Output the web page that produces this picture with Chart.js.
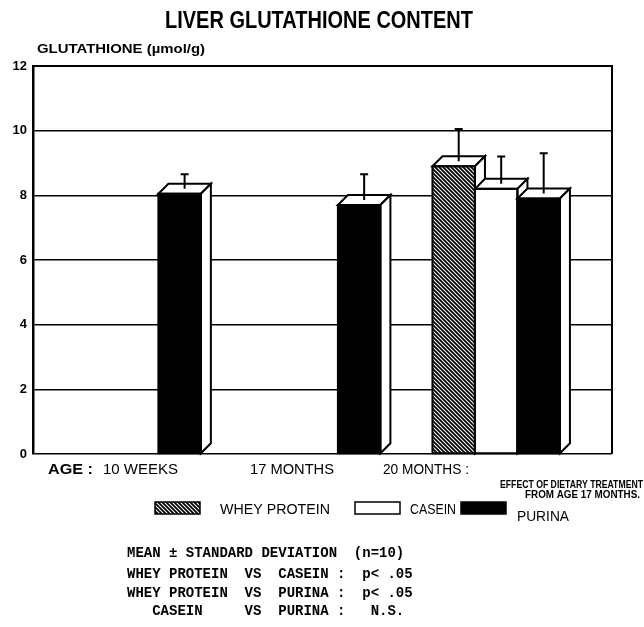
<!DOCTYPE html>
<html>
<head>
<meta charset="utf-8">
<script src="https://cdn.jsdelivr.net/npm/chart.js@4.4.0/dist/chart.umd.min.js"></script>
<style>
  html, body { margin: 0; padding: 0; background: #fff; }
  canvas { display: block; }
</style>
</head>
<body>
<canvas id="chart" width="644" height="627"></canvas>
<script>
// Data
const ages = ['10 WEEKS', '17 MONTHS', '20 MONTHS :'];
const diets = ['WHEY PROTEIN', 'CASEIN', 'PURINA'];
const wheyMean = [null, null, 8.9];
const wheySd = [null, null, 1.15];
const caseinMean = [null, null, 8.2];
const caseinSd = [null, null, 1.0];
const purinaMean = [8.05, 7.7, 7.9];
const purinaSd = [0.6, 0.95, 1.4];
const yTicks = [0, 2, 4, 6, 8, 10, 12];
const notes = [
  'MEAN \u00b1 STANDARD DEVIATION  (n=10)',
  'WHEY PROTEIN  VS  CASEIN :  p< .05',
  'WHEY PROTEIN  VS  PURINA :  p< .05',
  '   CASEIN     VS  PURINA :   N.S.'
];

const canvas = document.getElementById('chart');
const depth = 10;

// diagonal hatch for whey protein
function makeHatch() {
  const s = 4;
  const c = document.createElement('canvas');
  c.width = s; c.height = s;
  const g = c.getContext('2d');
  g.fillStyle = '#fff';
  g.fillRect(0, 0, s, s);
  g.strokeStyle = '#000';
  g.lineWidth = 1.8;
  g.beginPath();
  g.moveTo(0, 0); g.lineTo(s, s);
  g.moveTo(-1, s - 1); g.lineTo(1, s + 1);
  g.moveTo(s - 1, -1); g.lineTo(s + 1, 1);
  g.stroke();
  return canvas.getContext('2d').createPattern(c, 'repeat');
}
const hatch = makeHatch();

const toPoints = arr => arr.map((v, i) => ({ x: i, y: v }));

// text squeezed to a given width (scanned lettering is condensed)
function fitText(ctx, text, x, y, w) {
  const m = ctx.measureText(text).width;
  ctx.save();
  ctx.translate(x, y);
  ctx.scale(w / m, 1);
  ctx.fillText(text, 0, 0);
  ctx.restore();
}

// 3D faces + error bars
const bar3d = {
  id: 'bar3d',
  afterDatasetsDraw(chart) {
    const ctx = chart.ctx;
    const yScale = chart.scales.y;
    ctx.save();
    ctx.strokeStyle = '#000';
    ctx.lineWidth = 2;
    chart.data.datasets.forEach((ds, di) => {
      chart.getDatasetMeta(di).data.forEach((bar, i) => {
        if (ds.data[i].y == null) return;
        const p = bar.getProps(['x', 'y', 'base', 'width']);
        const l = p.x - p.width / 2, r = p.x + p.width / 2;
        bar.draw(ctx);
        ctx.fillStyle = '#fff';
        ctx.beginPath();
        ctx.moveTo(l, p.y); ctx.lineTo(l + depth, p.y - depth);
        ctx.lineTo(r + depth, p.y - depth); ctx.lineTo(r, p.y);
        ctx.closePath(); ctx.fill(); ctx.stroke();
        ctx.beginPath();
        ctx.moveTo(r, p.y); ctx.lineTo(r + depth, p.y - depth);
        ctx.lineTo(r + depth, p.base - depth); ctx.lineTo(r, p.base);
        ctx.closePath(); ctx.fill(); ctx.stroke();
        ctx.strokeRect(l, p.y, r - l, p.base - p.y);
      });
    });
    chart.data.datasets.forEach((ds, di) => {
      chart.getDatasetMeta(di).data.forEach((bar, i) => {
        if (ds.data[i].y == null) return;
        const p = bar.getProps(['x', 'y']);
        const ex = p.x + depth / 2;
        const top = yScale.getPixelForValue(ds.data[i].y + ds.sd[i]);
        ctx.beginPath();
        ctx.moveTo(ex, p.y - depth / 2); ctx.lineTo(ex, top);
        ctx.moveTo(ex - 4, top); ctx.lineTo(ex + 4, top);
        ctx.stroke();
      });
    });
    ctx.restore();
  },
  afterDraw(chart) {
    const ctx = chart.ctx;
    const a = chart.chartArea;
    ctx.save();
    ctx.strokeStyle = '#000';
    ctx.fillStyle = '#000';
    ctx.lineWidth = 2;
    ctx.beginPath();
    ctx.moveTo(a.left, a.top); ctx.lineTo(a.right, a.top); ctx.lineTo(a.right, a.bottom);
    ctx.stroke();

    ctx.textBaseline = 'alphabetic';
    ctx.font = 'bold 23px "Liberation Sans", Arial, sans-serif';
    fitText(ctx, 'LIVER GLUTATHIONE CONTENT', 165, 28, 308);
    ctx.font = 'bold 13px "Liberation Sans", Arial, sans-serif';
    fitText(ctx, 'GLUTATHIONE (\u00b5mol/g)', 37, 53, 168);

    // age labels under the axis
    ctx.font = 'bold 14px "Liberation Sans", Arial, sans-serif';
    fitText(ctx, 'AGE :', 48, 474, 45);
    ctx.font = '15px "Liberation Sans", Arial, sans-serif';
    const ageX = [103, 250, 383];
    const ageW = [75, 84, 86];
    ages.forEach((t, i) => fitText(ctx, t, ageX[i], 474, ageW[i]));
    ctx.font = 'bold 10px "Liberation Sans", Arial, sans-serif';
    fitText(ctx, 'EFFECT OF DIETARY TREATMENT', 500, 488, 143);
    fitText(ctx, 'FROM AGE 17 MONTHS.', 525, 498, 115);

    // legend
    const boxX = [155, 355, 461];
    const textX = [220, 410, 517];
    const textW = [110, 46, 52];
    const textY = [514, 514, 521];
    ctx.lineWidth = 1.5;
    chart.data.datasets.forEach((ds, i) => {
      ctx.fillStyle = ds.backgroundColor;
      ctx.fillRect(boxX[i], 502, 45, 12);
      ctx.strokeRect(boxX[i], 502, 45, 12);
      ctx.fillStyle = '#000';
      ctx.font = '15px "Liberation Sans", Arial, sans-serif';
      fitText(ctx, ds.label, textX[i], textY[i], textW[i]);
    });

    // statistics notes
    ctx.font = 'bold 14px "Liberation Mono", "DejaVu Sans Mono", monospace';
    const noteY = [557, 578, 597, 615];
    notes.forEach((t, i) => ctx.fillText(t, 127, noteY[i]));
    ctx.restore();
  }
};

new Chart(canvas, {
  type: 'bar',
  data: {
    datasets: [
      { label: diets[0], data: toPoints(wheyMean), sd: wheySd, backgroundColor: hatch },
      { label: diets[1], data: toPoints(caseinMean), sd: caseinSd, backgroundColor: '#fff' },
      { label: diets[2], data: toPoints(purinaMean), sd: purinaSd, backgroundColor: '#000' }
    ]
  },
  options: {
    responsive: false,
    animation: false,
    events: [],
    categoryPercentage: 0.71,
    barPercentage: 1.0,
    borderColor: '#000',
    borderWidth: 0,
    layout: { padding: { left: 0, top: 66, right: 32, bottom: 173 } },
    plugins: { legend: { display: false }, tooltip: { enabled: false } },
    scales: {
      x: {
        type: 'linear',
        display: false,
        offset: false,
        grid: { offset: false },
        min: -0.58,
        max: 2.645,
        afterBuildTicks: s => { s.ticks = ages.map((_, i) => ({ value: i })); }
      },
      y: {
        min: 0,
        max: 12,
        afterFit: s => { s.width = 33; },
        afterBuildTicks: s => { s.ticks = yTicks.map(v => ({ value: v })); },
        ticks: {
          color: '#000',
          padding: 6,
          font: { family: '"Liberation Sans", Arial, sans-serif', weight: 'bold', size: 13 }
        },
        grid: { color: '#000', lineWidth: 1.5, drawTicks: false },
        border: { color: '#000', width: 2.5 }
      }
    }
  },
  plugins: [bar3d]
});
</script>
</body>
</html>
